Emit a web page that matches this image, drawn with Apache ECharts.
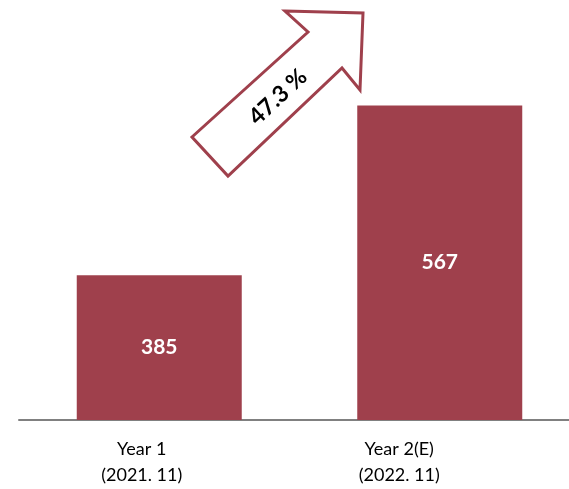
<!DOCTYPE html>
<html><head><meta charset="utf-8">
<script src="https://cdn.jsdelivr.net/npm/echarts@6/dist/echarts.min.js"></script>
<style>html,body{margin:0;padding:0;background:#fff}#c{width:569px;height:489px}</style>
</head><body><div id="c"></div>
<script>
const categories = ['Year 1\n(2021. 11)', 'Year 2(E)\n(2022. 11)'];
const values = [385, 567];
const growthLabel = '47.3 %';
const barColor = '#9F404C';

const chart = echarts.init(document.getElementById('c'));
chart.setOption({
  animation: false,
  grid: [
    {left: 19, width: 561, top: 0, bottom: 69, outerBoundsMode: 'none', containLabel: false},
    {left: 13, width: 515, top: 0, bottom: 69, outerBoundsMode: 'none', containLabel: false}
  ],
  xAxis: [
    {type: 'category', data: categories, gridIndex: 0,
     axisLine: {lineStyle: {color: '#808080', width: 2}},
     axisTick: {show: false}, axisLabel: {show: false}},
    {type: 'category', data: categories, gridIndex: 1,
     axisLine: {show: false}, axisTick: {show: false},
     axisLabel: {color: '#000', fontFamily: 'Lato', fontSize: 18, lineHeight: 26, margin: 16}}
  ],
  yAxis: [
    {type: 'value', min: 230, max: 680, show: false, gridIndex: 0},
    {type: 'value', min: 0, max: 1, show: false, gridIndex: 1}
  ],
  series: [{
    type: 'bar', data: values, barWidth: 165,
    itemStyle: {color: barColor},
    label: {show: true, position: 'inside', color: '#fff', fontWeight: 'bold',
            fontFamily: 'Lato', fontSize: 21}
  }],
  graphic: [
    {type: 'polygon', shape: {points: [[285,11],[363,13],[360,90],[342,68],[228,176],[192,137],[308,32]]},
     style: {fill: '#fff', stroke: barColor, lineWidth: 3}},
    {type: 'text', x: 278, y: 97, rotation: 43 * Math.PI / 180,
     style: {text: growthLabel, fill: '#000', font: 'bold 23px Lato', align: 'center', verticalAlign: 'middle'}}
  ]
});
</script></body></html>
